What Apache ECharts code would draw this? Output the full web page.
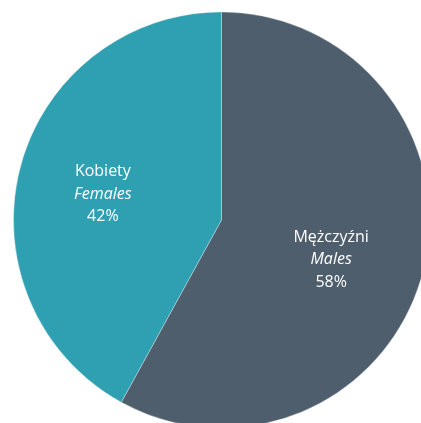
<!DOCTYPE html>
<html>
<head>
<meta charset="utf-8">
<script src="https://cdn.jsdelivr.net/npm/echarts@6/dist/echarts.min.js"></script>
<style>
  html, body { margin: 0; padding: 0; background: #ffffff; }
  #chart { width: 421px; height: 423px; }
</style>
</head>
<body>
<div id="chart"></div>
<script>
const namesPl = ["Mężczyźni", "Kobiety"];
const namesEn = ["Males", "Females"];
const shares = [58, 42];
const colors = ["#4e5e6d", "#2fa0b2"];
const labelOffsets = [[6, 13], [-15, 1]];

const chart = echarts.init(document.getElementById("chart"));

chart.setOption({
  backgroundColor: "#ffffff",
  animation: false,
  series: [
    {
      type: "pie",
      center: [221.5, 220],
      radius: [0, 208],
      startAngle: 90,
      clockwise: true,
      itemStyle: {
        borderColor: "rgba(255, 255, 255, 0.6)",
        borderWidth: 0.5,
      },
      label: {
        show: true,
        position: "inside",
        color: "#ffffff",
        fontFamily: "Open Sans",
        fontSize: 16,
        lineHeight: 22,
        formatter: (p) => `{a|${p.name}}\n{b|${namesEn[p.dataIndex]}}\n{a|${p.value}%}`,
        rich: {
          a: { color: "#ffffff", fontFamily: "Open Sans", fontSize: 16, lineHeight: 22.5 },
          b: { color: "#ffffff", fontFamily: "Open Sans", fontSize: 16, lineHeight: 22.5, fontStyle: "italic" },
        },
      },
      labelLine: { show: false },
      emphasis: { disabled: true },
      data: namesPl.map((name, i) => ({
        name,
        value: shares[i],
        itemStyle: { color: colors[i] },
        label: { offset: labelOffsets[i] },
      })),
    },
  ],
});
</script>
</body>
</html>
